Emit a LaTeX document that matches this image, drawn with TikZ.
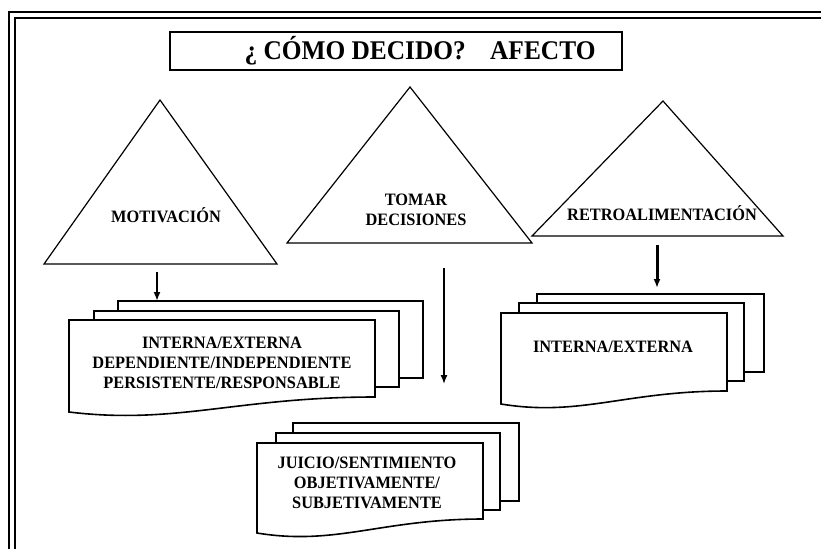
\documentclass[tikz,border=0pt]{standalone}
\usepackage{fontspec}
\setmainfont{Liberation Serif}
\newfontfamily\lblfont{Liberation Serif}[FakeStretch=0.94]
\usetikzlibrary{arrows.meta,calc}
\newcommand{\mydoc}[6][]{%
  \filldraw[fill=white,docline,#1] (#2,#3) -- (#4,#3) -- (#4,#5)
    .. controls ({#4-0.45*(#4-#2)},#5) and ({#2+0.35*(#4-#2)},{#6+13}) .. (#2,#6) -- cycle;}
\begin{document}
\begin{tikzpicture}[x=1pt,y=-1pt,line join=miter,
  frameline/.style={line width=2pt},
  docline/.style={line width=1.6pt},
  tri/.style={line width=1.2pt},
  lbl/.style={font=\lblfont\bfseries\fontsize{17.4}{20}\selectfont,align=center,inner sep=0pt},
  arr/.style={-{Latex[length=9pt,width=7pt]}}]
\useasboundingbox (0,0) rectangle (821,549);
% outer double frame
\draw[frameline] (9,549) -- (9,12) -- (821,12);
\draw[frameline] (15,549) -- (15,18) -- (821,18);
% title
\node[draw,line width=1.8pt,minimum width=452pt,minimum height=38pt,inner sep=0pt] (title) at (396,51) {};
\node[inner sep=0pt,font=\lblfont\bfseries\fontsize{27}{30}\selectfont] (titlet) at (420,51) {¿ CÓMO DECIDO?\hspace{0.9em}AFECTO};
% triangles
\draw[tri] (160,100) -- (277,264) -- (44,264) -- cycle;
\node[lbl] (mot) at (166,215) {MOTIVACIÓN};
\draw[tri] (410,87) -- (532,243) -- (287,243) -- cycle;
\node[lbl] (tom) at (416,210) {TOMAR\\DECISIONES};
\draw[tri] (663,101) -- (783,236) -- (532,236) -- cycle;
\node[lbl] (ret) at (662,213) {RETROALIMENTACIÓN};
% motivation stack
\filldraw[fill=white,docline] (118,301) rectangle (423,378);
\filldraw[fill=white,docline] (94,311) rectangle (399,387);
\mydoc{69}{320}{375}{397}{412}
\node[lbl] (motd) at (222,363) {INTERNA/EXTERNA\\DEPENDIENTE/INDEPENDIENTE\\PERSISTENTE/RESPONSABLE};
% retro stack
\filldraw[fill=white,docline] (537,294) rectangle (764,372);
\filldraw[fill=white,docline] (519,303) rectangle (744,381);
\mydoc{501}{313}{727}{391}{404}
\node[lbl] (retd) at (613,347) {INTERNA/EXTERNA};
% juicio stack
\filldraw[fill=white,docline] (293,423) rectangle (519,501);
\filldraw[fill=white,docline] (276,433) rectangle (500,510);
\mydoc{257}{443}{483}{519}{533}
\node[lbl] (jud) at (367,483) {JUICIO/SENTIMIENTO\\OBJETIVAMENTE/\\SUBJETIVAMENTE};
% arrows
\coordinate (a1s) at (157,272); \coordinate (a1e) at (157,301);
\coordinate (a2s) at (444,268); \coordinate (a2e) at (444,384);
\coordinate (a3s) at (657,245); \coordinate (a3e) at (657,288);
\draw[arr,line width=2.4pt] (a1s) -- (a1e);
\draw[arr,line width=1.4pt] (a2s) -- (a2e);
\draw[arr,line width=3pt] (a3s) -- (a3e);
\end{tikzpicture}
\end{document}
